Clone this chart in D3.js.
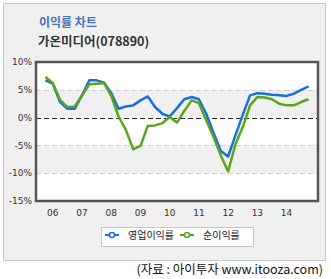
<!DOCTYPE html>
<html>
<head>
<meta charset="utf-8">
<script src="https://cdn.jsdelivr.net/npm/d3@7"></script>
<style>
body { margin: 0; background: #fff; }
text { font-family: "DejaVu Sans", "Noto Sans CJK KR", sans-serif; }
.kr { font-family: "Noto Sans CJK KR", sans-serif; }
</style>
</head>
<body>
<div id="chart"></div>
<script>
var quarters = d3.range(37); // 2005 Q4 .. 2014 Q4
var yearLabels = ["06", "07", "08", "09", "10", "11", "12", "13", "14"];
var operating = [6.7, 6.1, 2.8, 1.6, 1.6, 4.0, 6.7, 6.7, 6.3, 4.4, 1.6, 2.0, 2.2, 3.1, 3.8, 1.9, 0.7, 0.2, 1.7, 3.3, 3.7, 3.3, 0.7, -2.7, -6.0, -7.0, -3.2, 0.5, 4.0, 4.4, 4.3, 4.1, 4.0, 3.9, 4.3, 5.0, 5.6];
var net = [7.3, 6.2, 3.2, 1.9, 2.0, 4.0, 6.0, 6.1, 6.2, 3.9, 0.2, -2.2, -5.7, -5.1, -1.5, -1.4, -1.0, 0.1, -0.9, 1.2, 3.1, 2.6, -0.5, -3.5, -6.8, -9.7, -4.8, -1.7, 2.2, 3.7, 3.6, 3.3, 2.5, 2.2, 2.2, 2.8, 3.3];
var yTicks = [10, 5, 0, -5, -10, -15];

var width = 331, height = 279;
var plot = {left: 36, top: 62, right: 318, bottom: 201};

var svg = d3.select("#chart").append("svg")
    .attr("width", width)
    .attr("height", height);

// outer panel
svg.append("rect")
    .attr("x", 3.5).attr("y", 3.5)
    .attr("width", 322).attr("height", 257)
    .attr("fill", "#f0f0f0")
    .attr("stroke", "#c8c8c8");

svg.append("text")
    .attr("class", "kr")
    .attr("x", 39).attr("y", 27)
    .attr("fill", "#4472c4")
    .attr("font-size", 12)
    .attr("font-weight", "bold")
    .text("이익률 차트");

svg.append("text")
    .attr("class", "kr")
    .attr("x", 38).attr("y", 46)
    .attr("fill", "#333")
    .attr("font-size", 12.5)
    .attr("font-weight", 600)
    .text("가온미디어(078890)");

var x = d3.scalePoint()
    .domain(quarters)
    .range([plot.left, plot.right])
    .padding(1.3);

var y = d3.scaleLinear()
    .domain([-15, 10])
    .range([plot.bottom, plot.top]);

// plot background + bands
svg.append("rect")
    .attr("x", plot.left).attr("y", plot.top)
    .attr("width", plot.right - plot.left).attr("height", plot.bottom - plot.top)
    .attr("fill", "#fff");

svg.selectAll(".band")
    .data([[5, 0], [-5, -10]])
    .enter().append("rect")
    .attr("x", plot.left)
    .attr("y", function(d) { return y(d[0]); })
    .attr("width", plot.right - plot.left)
    .attr("height", function(d) { return y(d[1]) - y(d[0]); })
    .attr("fill", "#f0f0f0");

svg.selectAll(".grid")
    .data([5, -5, -10])
    .enter().append("line")
    .attr("x1", plot.left).attr("x2", plot.right)
    .attr("y1", function(d) { return Math.round(y(d)) + 0.5; })
    .attr("y2", function(d) { return Math.round(y(d)) + 0.5; })
    .attr("stroke", "#d0d0d0")
    .attr("stroke-dasharray", "5,3");

svg.append("line")
    .attr("x1", plot.left).attr("x2", plot.right)
    .attr("y1", Math.round(y(0)) + 0.5).attr("y2", Math.round(y(0)) + 0.5)
    .attr("stroke", "#222")
    .attr("stroke-dasharray", "5,3");

var line = d3.line()
    .x(function(d, i) { return x(quarters[i]); })
    .y(function(d) { return y(d); });

svg.append("path")
    .datum(operating)
    .attr("fill", "none")
    .attr("stroke", "#1a6fe0")
    .attr("stroke-width", 2.5)
    .attr("stroke-linejoin", "round")
    .attr("d", line);

svg.append("path")
    .datum(net)
    .attr("fill", "none")
    .attr("stroke", "#5aa51a")
    .attr("stroke-width", 2.5)
    .attr("stroke-linejoin", "round")
    .attr("d", line);

// plot frame
svg.append("rect")
    .attr("x", plot.left).attr("y", plot.top)
    .attr("width", plot.right - plot.left).attr("height", plot.bottom - plot.top)
    .attr("fill", "none")
    .attr("stroke", "#555")
    .attr("stroke-width", 2.5);

// y axis labels
svg.selectAll(".ylab")
    .data(yTicks)
    .enter().append("text")
    .attr("x", 32)
    .attr("y", function(d) { return y(d); })
    .attr("dy", "0.35em")
    .attr("text-anchor", "end")
    .attr("font-size", 9)
    .attr("fill", "#333")
    .text(function(d) { return d + "%"; });

// x axis labels at Q1 of each year
svg.selectAll(".xlab")
    .data(yearLabels)
    .enter().append("text")
    .attr("x", function(d, i) { return x(quarters[1 + i * 4]); })
    .attr("y", 213)
    .attr("dy", "0.35em")
    .attr("text-anchor", "middle")
    .attr("font-size", 9)
    .attr("fill", "#333")
    .text(function(d) { return d; });

// legend
var legend = svg.append("g");
legend.append("rect")
    .attr("x", 101.5).attr("y", 227.5)
    .attr("width", 152).attr("height", 19)
    .attr("fill", "#fff")
    .attr("stroke", "#c8c8c8");

var items = [
    {name: "영업이익률", color: "#1a6fe0", x: 105},
    {name: "순이익률", color: "#5aa51a", x: 180}
];
var li = legend.selectAll(".item").data(items).enter().append("g")
    .attr("transform", function(d) { return "translate(" + d.x + ",235)"; });
li.append("line")
    .attr("x1", 0).attr("x2", 14)
    .attr("stroke", function(d) { return d.color; })
    .attr("stroke-width", 2);
li.append("circle")
    .attr("cx", 7).attr("r", 2.5)
    .attr("fill", "#fff")
    .attr("stroke", function(d) { return d.color; })
    .attr("stroke-width", 1.5);
li.append("text")
    .attr("class", "kr")
    .attr("x", 23)
    .attr("dy", "0.35em")
    .attr("font-size", 10)
    .attr("fill", "#222")
    .text(function(d) { return d.name; });

svg.append("text")
    .attr("class", "kr")
    .attr("x", 323).attr("y", 270)
    .attr("dy", "0.35em")
    .attr("text-anchor", "end")
    .attr("font-size", 12.5)
    .attr("fill", "#111")
    .text("(자료 : 아이투자 www.itooza.com)");
</script>
</body>
</html>
